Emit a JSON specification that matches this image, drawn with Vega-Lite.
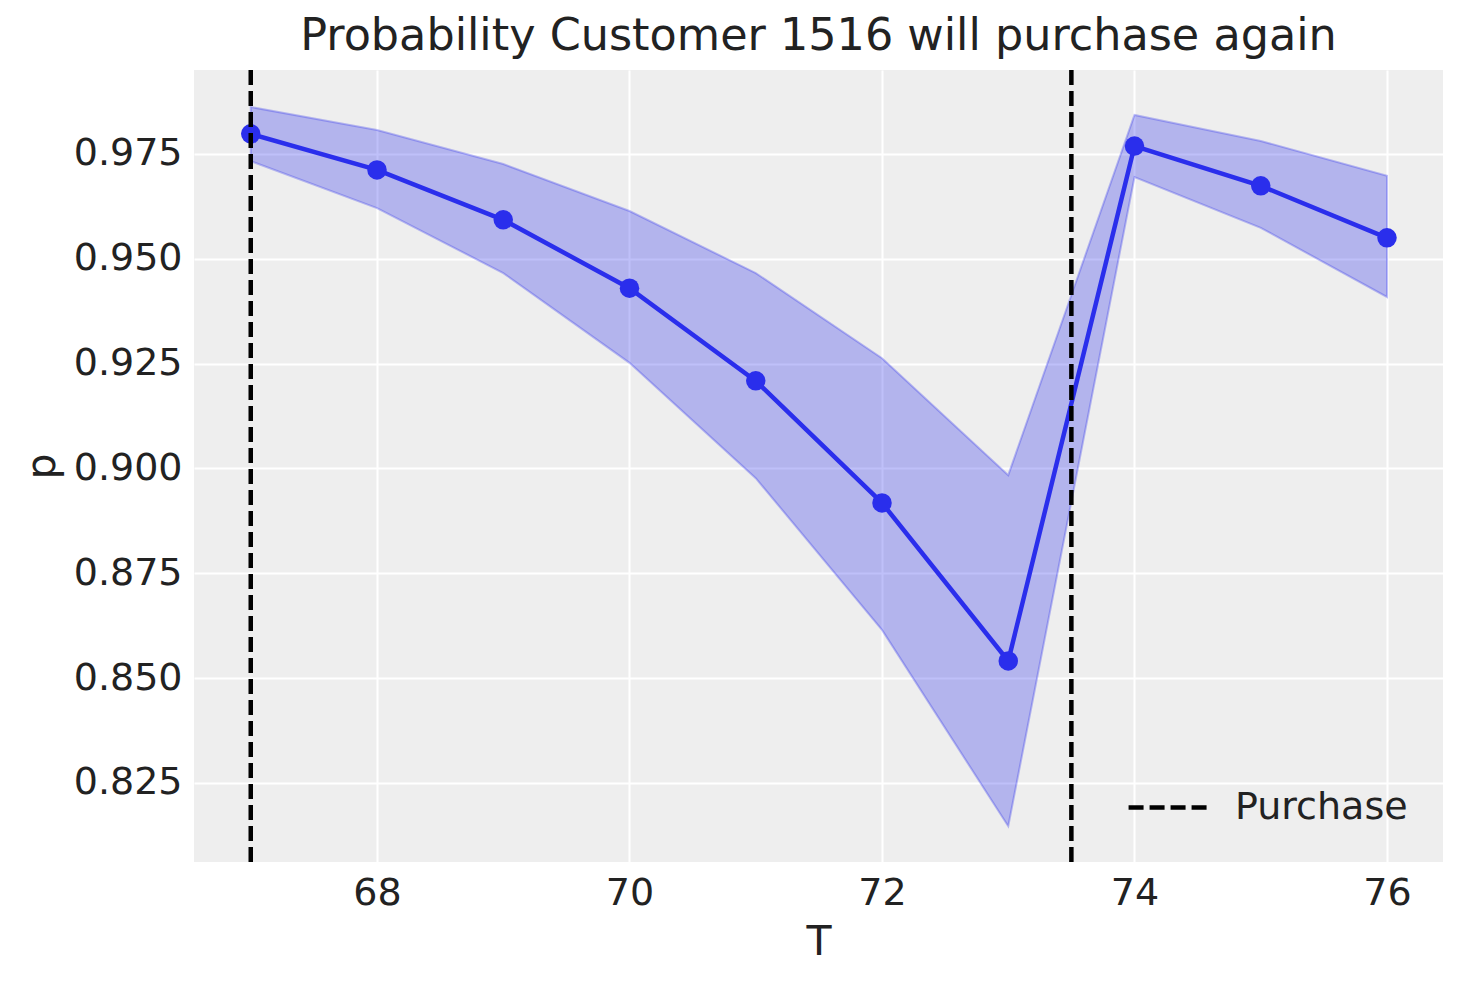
{
  "$schema": "https://vega.github.io/schema/vega-lite/v6.json",
  "width": 1249,
  "height": 792,
  "autosize": {"type": "none"},
  "padding": {"left": 194, "top": 70, "right": 20, "bottom": 121},
  "background": "white",
  "title": {
    "text": "Probability Customer 1516 will purchase again",
    "font": "DejaVu Sans",
    "fontSize": 44.5,
    "fontWeight": "normal",
    "color": "#222222",
    "anchor": "middle",
    "baseline": "alphabetic",
    "offset": -27
  },
  "config": {
    "view": {"fill": "#eeeeee", "stroke": null},
    "axis": {
      "labelFont": "DejaVu Sans",
      "labelFontSize": 38,
      "labelColor": "#222222",
      "titleFont": "DejaVu Sans",
      "titleFontSize": 41,
      "titleFontWeight": "normal",
      "titleColor": "#222222",
      "domain": false,
      "ticks": false,
      "labelPadding": 12,
      "titlePadding": 10,
      "grid": true,
      "gridColor": "#ffffff",
      "gridWidth": 2,
      "gridOpacity": 1
    },
    "legend": {
      "labelFont": "DejaVu Sans",
      "labelFontSize": 38,
      "labelColor": "#222222",
      "labelLimit": 400
    }
  },
  "data": {
    "values": [
      {"T": 67, "p": 0.9798, "lo": 0.9733, "hi": 0.9862},
      {"T": 68, "p": 0.9712, "lo": 0.9621, "hi": 0.9807},
      {"T": 69, "p": 0.9593, "lo": 0.9466, "hi": 0.9726},
      {"T": 70, "p": 0.9430, "lo": 0.9252, "hi": 0.9614},
      {"T": 71, "p": 0.9209, "lo": 0.8977, "hi": 0.9466},
      {"T": 72, "p": 0.8918, "lo": 0.8615, "hi": 0.9263},
      {"T": 73, "p": 0.8541, "lo": 0.8147, "hi": 0.8984},
      {"T": 74, "p": 0.9769, "lo": 0.9695, "hi": 0.9843},
      {"T": 75, "p": 0.9674, "lo": 0.9574, "hi": 0.9781},
      {"T": 76, "p": 0.9550, "lo": 0.9409, "hi": 0.9698}
    ]
  },
  "layer": [
    {
      "mark": {"type": "area", "fill": "#2a2eec", "fillOpacity": 0.3, "stroke": "#2a2eec", "strokeOpacity": 0.3, "strokeWidth": 2},
      "encoding": {
        "x": {
          "field": "T", "type": "quantitative",
          "scale": {"domain": [66.5505, 76.4436], "nice": false, "zero": false},
          "axis": {"values": [68, 70, 72, 74, 76], "title": "T", "format": "d"}
        },
        "y": {
          "field": "lo", "type": "quantitative",
          "scale": {"domain": [0.80616, 0.99503], "nice": false, "zero": false},
          "axis": {"values": [0.825, 0.85, 0.875, 0.9, 0.925, 0.95, 0.975], "format": ".3f", "title": "p"}
        },
        "y2": {"field": "hi"}
      }
    },
    {
      "mark": {"type": "line", "color": "#2a2eec", "strokeWidth": 4.5},
      "encoding": {
        "x": {"field": "T", "type": "quantitative"},
        "y": {"field": "p", "type": "quantitative"}
      }
    },
    {
      "mark": {"type": "point", "filled": true, "color": "#2a2eec", "opacity": 1, "size": 380, "shape": "circle"},
      "encoding": {
        "x": {"field": "T", "type": "quantitative"},
        "y": {"field": "p", "type": "quantitative"}
      }
    },
    {
      "data": {"values": [{"T": 67, "label": "Purchase"}, {"T": 73.5, "label": "Purchase"}]},
      "mark": {"type": "rule", "strokeDash": [15, 6], "strokeWidth": 4.5},
      "encoding": {
        "x": {"field": "T", "type": "quantitative"},
        "color": {
          "field": "label", "type": "nominal",
          "scale": {"domain": ["Purchase"], "range": ["#000000"]},
          "legend": {
            "title": null,
            "orient": "bottom-right",
            "offset": 35,
            "padding": 0,
            "symbolType": "stroke",
            "symbolDash": [15, 6],
            "symbolStrokeWidth": 4.5,
            "symbolSize": 6700,
            "labelOffset": 22,
            "labelLimit": 400
          }
        }
      }
    }
  ]
}
